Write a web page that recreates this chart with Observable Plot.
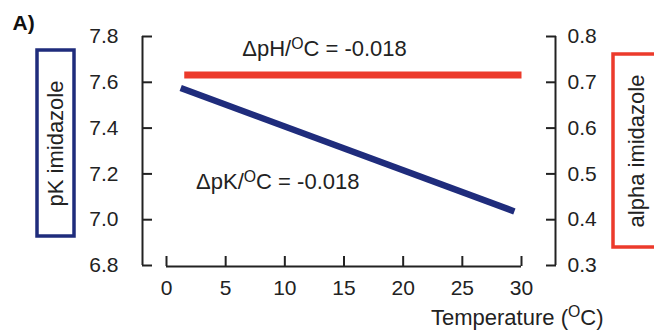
<!DOCTYPE html>
<html>
<head>
<meta charset="utf-8">
<script src="https://cdn.jsdelivr.net/npm/d3@7"></script>
<script src="https://cdn.jsdelivr.net/npm/@observablehq/plot@0.6"></script>
<style>
  html, body { margin: 0; padding: 0; background: #fff; }
  #chart svg { display: block; }
</style>
</head>
<body>
<div id="chart"></div>
<script>
// ---- data ----
const pkTemps = [1.2, 29.4];          // °C
const pkValues = [7.575, 7.036];      // pK imidazole (left axis)
const alphaTemps = [1.5, 30];         // °C
const alphaValues = [0.716, 0.716];   // alpha imidazole (right axis)
const xTicks = [0, 5, 10, 15, 20, 25, 30];
const pkTicks = [6.8, 7.0, 7.2, 7.4, 7.6, 7.8];
const alphaTicks = [0.3, 0.4, 0.5, 0.6, 0.7, 0.8];
const annotationTexts = ["ΔpH/ᴼC = -0.018", "ΔpK/ᴼC = -0.018"];
const annotationX = [6.4, 2.5];
const annotationY = [7.745, 7.165];
const panelLabel = "A)";
const xLabel = "Temperature (ᴼC)";
const leftLabel = "pK imidazole";
const rightLabel = "alpha imidazole";

// alpha axis is mapped linearly onto the pK axis (0.3↔6.8, 0.8↔7.8)
const alphaToPk = a => 6.8 + (a - 0.3) * 2;
const pkToAlpha = p => 0.3 + (p - 6.8) / 2;

const blue = "#1f2c7c";
const red = "#ec3a2b";
const font = "'Liberation Sans', Arial, Helvetica, sans-serif";

const pkData = pkTemps.map((t, i) => ({t, v: pkValues[i]}));
const alphaData = alphaTemps.map((t, i) => ({t, v: alphaToPk(alphaValues[i])}));
const annots = annotationTexts.map((text, i) => ({text, x: annotationX[i], y: annotationY[i]}));

const plot = Plot.plot({
  width: 654,
  height: 333,
  marginLeft: 142,
  marginRight: 99,
  marginTop: 36,
  marginBottom: 68,
  style: {fontFamily: font, fontSize: "21px", color: "#222", background: "#fff"},
  x: {domain: [0, 30], insetLeft: 24, insetRight: 34},
  y: {domain: [6.8, 7.8]},
  marks: [
    // left axis line
    Plot.ruleX([0], {dx: -24, y1: pkTicks[0], y2: pkTicks[pkTicks.length - 1], stroke: "#222", strokeWidth: 2}),
    // right axis line
    Plot.ruleX([30], {dx: 34, y1: alphaToPk(alphaTicks[0]), y2: alphaToPk(alphaTicks[alphaTicks.length - 1]), stroke: "#222", strokeWidth: 2}),
    // x axis line
    Plot.ruleY([pkTicks[0]], {x1: xTicks[0], x2: xTicks[xTicks.length - 1], dy: 1, stroke: "#222", strokeWidth: 2}),
    Plot.axisY({anchor: "left", ticks: pkTicks, tickFormat: d => d.toFixed(1), tickSize: 10, dx: 10, tickPadding: 24, strokeWidth: 2, label: null, fontSize: 21}),
    Plot.axisY({anchor: "right", ticks: alphaTicks.map(alphaToPk), tickFormat: d => pkToAlpha(d).toFixed(1), tickSize: 10, dx: -10, tickPadding: 12, strokeWidth: 2, label: null, fontSize: 21}),
    Plot.axisX({anchor: "bottom", ticks: xTicks, tickSize: 10, dy: -9, tickPadding: 14, strokeWidth: 2, label: null, fontSize: 21}),
    Plot.line(alphaData, {x: "t", y: "v", stroke: red, strokeWidth: 7, strokeLinecap: "butt"}),
    Plot.line(pkData, {x: "t", y: "v", stroke: blue, strokeWidth: 6.5, strokeLinecap: "butt"}),
    Plot.text(annots, {x: "x", y: "y", text: "text", textAnchor: "start", fontSize: 22, fill: "#222"}),
    Plot.text([xLabel], {frameAnchor: "bottom-right", dx: 48, dy: 59, textAnchor: "end", fontSize: 22, fill: "#222"}),
    Plot.text([panelLabel], {frameAnchor: "top-left", dx: -130, dy: -7, textAnchor: "start", lineAnchor: "bottom", fontSize: 21, fontWeight: "bold", fill: "#111"}),
    Plot.text([leftLabel], {frameAnchor: "left", dx: -87, dy: -7.5, rotate: -90, textAnchor: "middle", fontSize: 22, fill: "#222"}),
    Plot.text([rightLabel], {frameAnchor: "right", dx: 81, dy: 0, rotate: -90, textAnchor: "middle", fontSize: 22, fill: "#222"})
  ]
});

// framed boxes around the two y-axis titles
const svg = d3.select(plot);
const g = svg.insert("g", ":first-child");
g.append("rect").attr("x", 37).attr("y", 50).attr("width", 37).attr("height", 186)
  .attr("fill", "none").attr("stroke", blue).attr("stroke-width", 3.5);
g.append("rect").attr("x", 613).attr("y", 54).attr("width", 80).attr("height", 193)
  .attr("fill", "none").attr("stroke", red).attr("stroke-width", 3.5);

// render the superscript "ᴼ" as a raised small O
svg.selectAll("text").each(function() {
  const el = d3.select(this);
  const s = el.text();
  if (!s.includes("ᴼ")) return;
  const parts = s.split("ᴼ");
  el.text(null);
  parts.forEach((p, i) => {
    if (i > 0) el.append("tspan").attr("font-size", "0.72em").attr("dy", "-0.45em").text("O");
    const t = el.append("tspan").text(p);
    if (i > 0) t.attr("dy", "0.324em");
  });
});

document.getElementById("chart").append(plot);
</script>
</body>
</html>
